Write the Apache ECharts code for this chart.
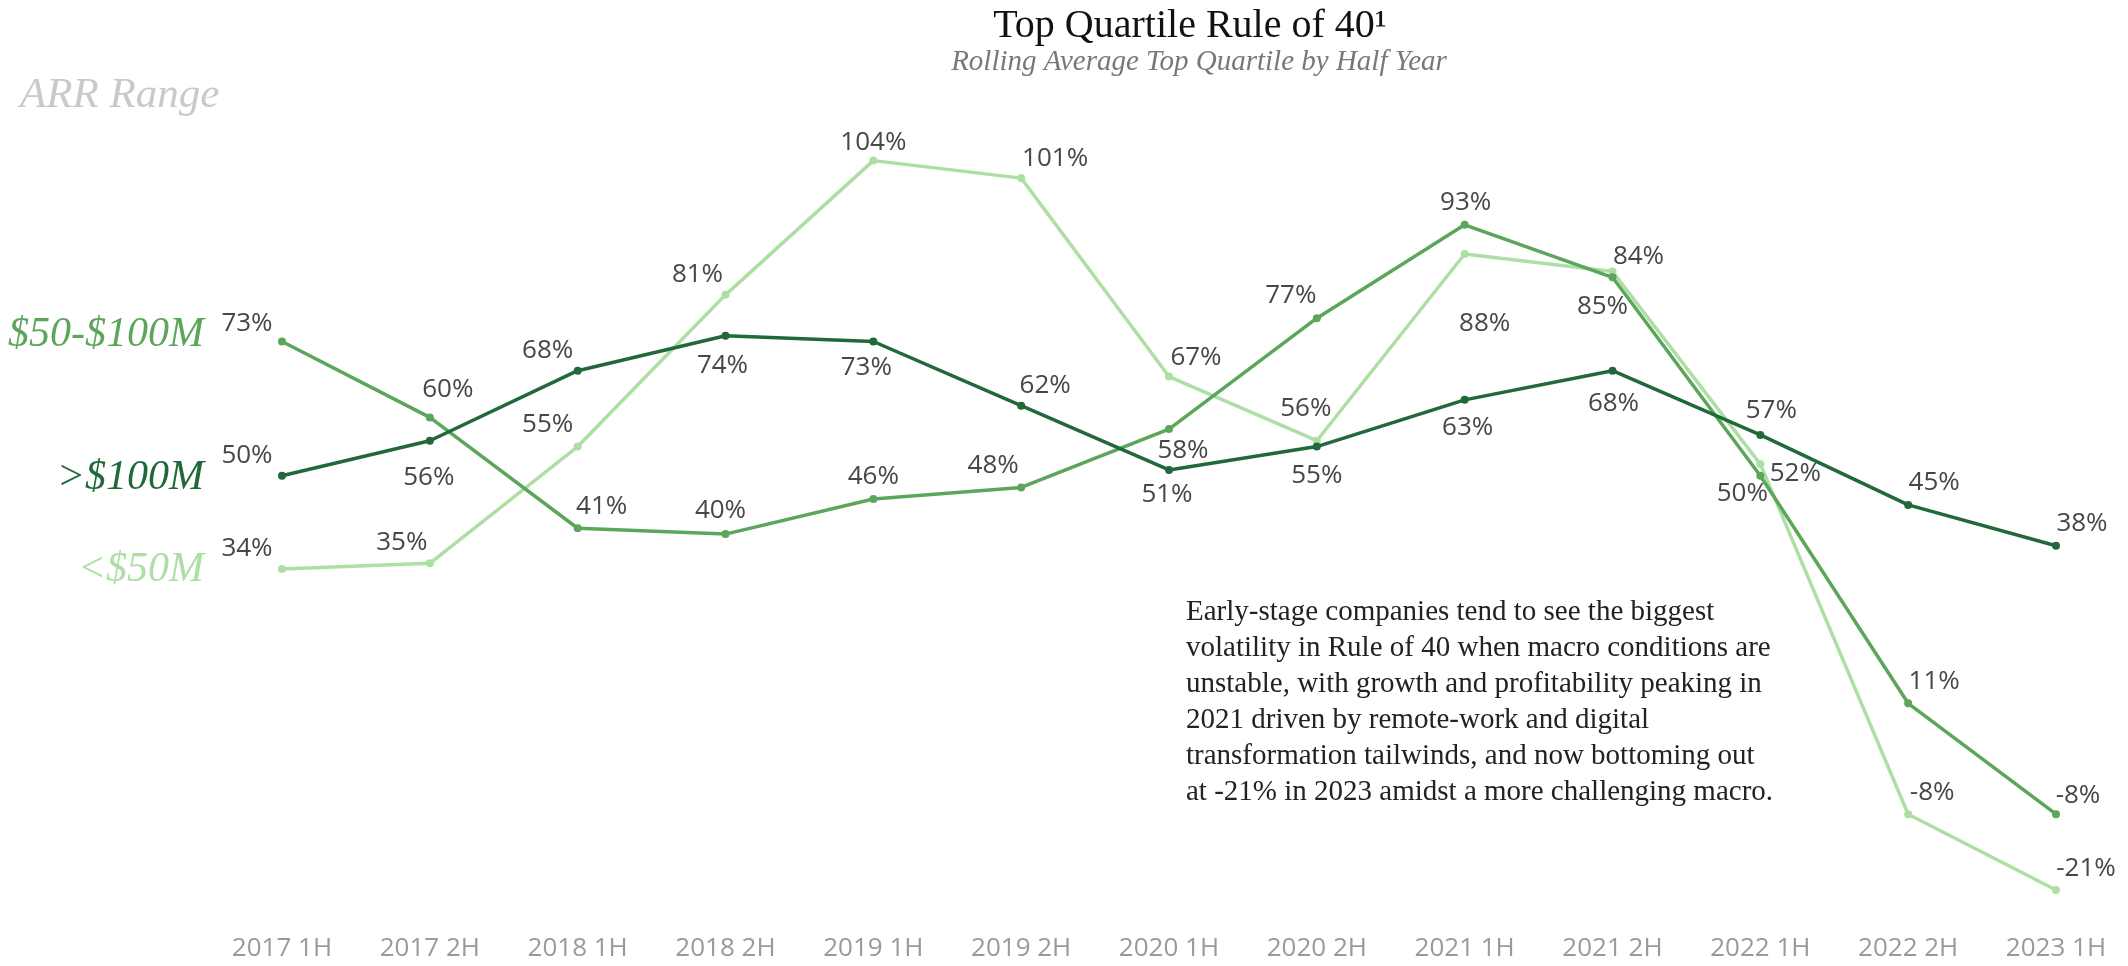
<!DOCTYPE html>
<html>
<head>
<meta charset="utf-8">
<script src="https://cdn.jsdelivr.net/npm/echarts@6/dist/echarts.min.js"></script>
<style>
  html, body { margin: 0; padding: 0; background: #ffffff; }
  #chart { width: 2128px; height: 966px; }
</style>
</head>
<body>
<div id="chart"></div>
<script>
// ---- Data ----
const categories = ['2017 1H', '2017 2H', '2018 1H', '2018 2H', '2019 1H', '2019 2H', '2020 1H',
                    '2020 2H', '2021 1H', '2021 2H', '2022 1H', '2022 2H', '2023 1H'];
const seriesNames = ['>$100M', '$50-$100M', '<$50M'];
const over100M    = [50, 56, 68, 74, 73, 62, 51, 55, 63, 68, 57, 45, 38];
const mid50to100M = [73, 60, 41, 40, 46, 48, 58, 77, 93, 84, 50, 11, -8];
const under50M    = [34, 35, 55, 81, 104, 101, 67, 56, 88, 85, 52, -8, -21];

const titleText = 'Top Quartile Rule of 40\u00B9';
const subtitleText = 'Rolling Average Top Quartile by Half Year';
const legendTitle = 'ARR Range';
const annotationLines = [
  'Early-stage companies tend to see the biggest',
  'volatility in Rule of 40 when macro conditions are',
  'unstable, with growth and profitability peaking in',
  '2021 driven by remote-work and digital',
  'transformation tailwinds, and now bottoming out',
  'at -21% in 2023 amidst a more challenging macro.'
];

// ---- Styling (label placement offsets, colours) ----
const colors = { dark: '#21693a', mid: '#5ba65a', light: '#addfa4' };
const darkOffsets  = [[-35,-20],[-1,37],[-30,-20],[-3,30],[-7,26],[24,-20],[-2,25],[0,29],[3,28],[1,33],[11,-24],[26,-22],[26,-22]];
const midOffsets   = [[-35,-18],[18,-28],[24,-22],[-5,-23],[0,-22],[-28,-22],[14,22],[-26,-23],[1,-22],[26,-21],[-18,18],[26,-22],[22,-19]];
const lightOffsets = [[-35,-21],[-28,-21],[-30,-22],[-28,-20],[0,-18],[34,-20],[27,-19],[-11,-32],[20,70],[-10,35],[35,10],[24,-22],[30,-21]];

const labelFont = { fontFamily: 'Open Sans', fontSize: 26, color: '#474747' };

function buildData(values, offsets) {
  return values.map((v, i) => ({
    value: v,
    label: { offset: offsets[i] }
  }));
}

function makeSeries(name, values, offsets, color, z) {
  return {
    name: name,
    type: 'line',
    data: buildData(values, offsets),
    symbol: 'circle',
    symbolSize: 8,
    showSymbol: true,
    z: z,
    lineStyle: { color: color, width: 3.5 },
    itemStyle: { color: color },
    emphasis: { disabled: true },
    label: {
      show: true,
      position: 'inside',
      formatter: p => p.value + '%',
      fontFamily: labelFont.fontFamily,
      fontSize: labelFont.fontSize,
      color: labelFont.color
    },
    animation: false
  };
}

const chart = echarts.init(document.getElementById('chart'), null, { renderer: 'canvas' });

const serifFont = 'Liberation Serif';

const graphics = [
  { type: 'text', x: 1190, y: 6, style: { text: titleText, font: '40px "' + serifFont + '"', fill: '#111111', textAlign: 'center' } },
  { type: 'text', x: 1199, y: 48, style: { text: subtitleText, font: 'italic 29px "' + serifFont + '"', fill: '#787878', textAlign: 'center' } },
  { type: 'text', x: 20, y: 74, style: { text: legendTitle, font: 'italic 43px "' + serifFont + '"', fill: '#c9c9c9', textAlign: 'left' } },
  { type: 'text', x: 204, y: 335, style: { text: seriesNames[1], font: 'italic 42px "' + serifFont + '"', fill: colors.mid, textAlign: 'right', textVerticalAlign: 'middle' } },
  { type: 'text', x: 204, y: 478, style: { text: seriesNames[0], font: 'italic 42px "' + serifFont + '"', fill: colors.dark, textAlign: 'right', textVerticalAlign: 'middle' } },
  { type: 'text', x: 204, y: 570, style: { text: seriesNames[2], font: 'italic 42px "' + serifFont + '"', fill: colors.light, textAlign: 'right', textVerticalAlign: 'middle' } },
  { type: 'text', x: 1186, y: 594, style: { text: annotationLines.join('\n'), font: '29px "' + serifFont + '"', lineHeight: 36, fill: '#222222', textAlign: 'left' } }
];

chart.setOption({
  backgroundColor: '#ffffff',
  animation: false,
  grid: { left: 282, right: 72, top: 125.6, bottom: 52.6, containLabel: false },
  xAxis: {
    type: 'category',
    data: categories,
    boundaryGap: false,
    axisLine: { show: false },
    axisTick: { show: false },
    splitLine: { show: false },
    axisLabel: { color: '#9a9a9a', fontFamily: 'Open Sans', fontSize: 26, margin: 22 }
  },
  yAxis: {
    type: 'value',
    min: -25,
    max: 110,
    show: false,
    splitLine: { show: false }
  },
  series: [
    makeSeries(seriesNames[2], under50M, lightOffsets, colors.light, 2),
    makeSeries(seriesNames[1], mid50to100M, midOffsets, colors.mid, 3),
    makeSeries(seriesNames[0], over100M, darkOffsets, colors.dark, 4)
  ],
  graphic: graphics
});
</script>
</body>
</html>
